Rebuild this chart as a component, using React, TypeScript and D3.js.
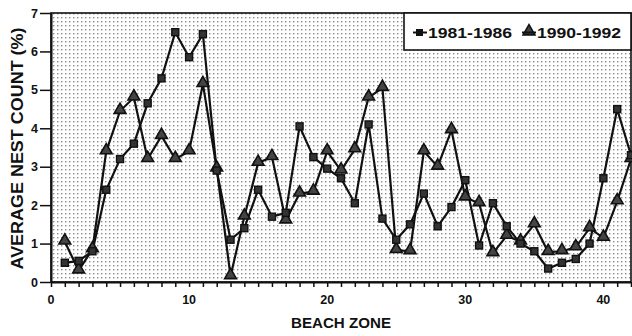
import React, { useEffect, useRef } from "react";
import * as d3 from "d3";

const zones = d3.range(1, 43);
const nests8186 = [
  0.5, 0.55, 0.8, 2.4, 3.2, 3.6, 4.65, 5.3, 6.5, 5.85, 6.45, 2.9, 1.1, 1.4,
  2.4, 1.7, 1.8, 4.05, 3.25, 2.95, 2.7, 2.05, 4.1, 1.65, 1.1, 1.5, 2.3, 1.45,
  1.95, 2.65, 0.95, 2.05, 1.45, 1.0, 0.8, 0.35, 0.5, 0.6, 1.0, 2.7, 4.5, 3.3,
];
const nests9092 = [
  1.05, 0.3, 0.85, 3.4, 4.45, 4.8, 3.2, 3.8, 3.2, 3.4, 5.15, 2.95, 0.15, 1.7,
  3.1, 3.25, 1.6, 2.3, 2.35, 3.4, 2.9, 3.45, 4.8, 5.05, 0.83, 0.8, 3.4, 3.0,
  3.95, 2.2, 2.05, 0.75, 1.2, 1.05, 1.5, 0.78, 0.8, 0.9, 1.4, 1.15, 2.1, 3.2,
];
const xTicks = [0, 10, 20, 30, 40];
const yTicks = [0, 1, 2, 3, 4, 5, 6, 7];
const legendLabels = ["1981-1986", "1990-1992"];

export default function App() {
  const ref = useRef<SVGSVGElement | null>(null);
  const width = 632;
  const height = 336;
  const marginTop = 13;
  const marginRight = 1;
  const marginBottom = 54;
  const marginLeft = 51;

  useEffect(() => {
    const x = d3
      .scaleLinear()
      .domain([0, 42])
      .range([marginLeft, width - marginRight]);
    const y = d3
      .scaleLinear()
      .domain([0, 7])
      .range([height - marginBottom, marginTop]);

    const svg = d3.select(ref.current);
    svg.selectAll("*").remove();
    svg
      .attr("width", width)
      .attr("height", height)
      .attr("viewBox", [0, 0, width, height])
      .attr("style", "position:absolute;left:0;top:0;background:#fff;font-family:Arial, 'Liberation Sans', sans-serif;");

    // dotted background
    const defs = svg.append("defs");
    const pat = defs
      .append("pattern")
      .attr("id", "dots")
      .attr("width", 4)
      .attr("height", 4)
      .attr("patternUnits", "userSpaceOnUse");
    pat.append("rect").attr("width", 4).attr("height", 4).attr("fill", "#fff");
    pat
      .append("rect")
      .attr("x", 1)
      .attr("y", 1)
      .attr("width", 1.4)
      .attr("height", 1.4)
      .attr("fill", "#8a8a8a");

    svg
      .append("rect")
      .attr("x", x(0))
      .attr("y", y(7))
      .attr("width", x(42) - x(0))
      .attr("height", y(0) - y(7))
      .attr("fill", "url(#dots)")
      .attr("stroke", "#111")
      .attr("stroke-width", 1.6);

    // x axis
    const xAxis = svg
      .append("g")
      .attr("transform", `translate(0,${y(0)})`)
      .call(
        d3
          .axisBottom(x)
          .tickValues(d3.range(0, 43))
          .tickSize(5)
          .tickSizeOuter(0)
          .tickFormat(() => "")
      );
    xAxis.select(".domain").attr("stroke", "#111").attr("stroke-width", 2);
    xAxis.selectAll(".tick line").attr("stroke", "#111").attr("stroke-width", 1.5);

    svg
      .append("g")
      .selectAll("text")
      .data(xTicks)
      .join("text")
      .attr("x", (d) => x(d))
      .attr("y", y(0) + 22)
      .attr("text-anchor", "middle")
      .attr("font-size", 12.5)
      .attr("font-weight", "bold")
      .attr("fill", "#111")
      .text((d) => d);

    // y axis
    const yAxis = svg
      .append("g")
      .attr("transform", `translate(${x(0)},0)`)
      .call(
        d3
          .axisLeft(y)
          .tickValues(yTicks)
          .tickSize(11)
          .tickSizeOuter(0)
          .tickFormat(() => "")
      );
    yAxis.select(".domain").attr("stroke", "#111").attr("stroke-width", 2);
    yAxis.selectAll(".tick line").attr("stroke", "#111").attr("stroke-width", 1.5);

    svg
      .append("g")
      .selectAll("text")
      .data(yTicks)
      .join("text")
      .attr("x", x(0) - 13)
      .attr("y", (d) => y(d))
      .attr("dy", "0.36em")
      .attr("text-anchor", "end")
      .attr("font-size", 12.5)
      .attr("font-weight", "bold")
      .attr("fill", "#111")
      .text((d) => d);

    // axis titles
    svg
      .append("text")
      .attr("x", (x(0) + x(42)) / 2)
      .attr("y", 328)
      .attr("text-anchor", "middle")
      .attr("font-size", 14)
      .attr("font-weight", "bold")
      .attr("textLength", 100)
      .attr("lengthAdjust", "spacingAndGlyphs")
      .attr("fill", "#111")
      .text("BEACH ZONE");

    svg
      .append("text")
      .attr("transform", `translate(23,${(y(0) + y(7)) / 2 + 1}) rotate(-90)`)
      .attr("text-anchor", "middle")
      .attr("font-size", 16)
      .attr("font-weight", "bold")
      .attr("textLength", 242)
      .attr("lengthAdjust", "spacingAndGlyphs")
      .attr("fill", "#111")
      .text("AVERAGE NEST COUNT (%)");

    const line = d3
      .line<number>()
      .x((_, i) => x(zones[i]))
      .y((d) => y(d));

    const plot = svg.append("g");

    // lines
    [nests8186, nests9092].forEach((s) => {
      plot
        .append("path")
        .datum(s)
        .attr("fill", "none")
        .attr("stroke", "#111")
        .attr("stroke-width", 2.2)
        .attr("d", line);
    });

    const tri = d3.symbol().type(d3.symbolTriangle).size(60);

    // triangles
    plot
      .append("g")
      .selectAll("path")
      .data(nests9092)
      .join("path")
      .attr("transform", (d, i) => `translate(${x(zones[i])},${y(d) - 1})`)
      .attr("d", tri)
      .attr("fill", "#444")
      .attr("stroke", "#111")
      .attr("stroke-width", 1.6);

    // squares
    plot
      .append("g")
      .selectAll("rect")
      .data(nests8186)
      .join("rect")
      .attr("x", (d, i) => x(zones[i]) - 3.5)
      .attr("y", (d) => y(d) - 3.5)
      .attr("width", 7)
      .attr("height", 7)
      .attr("fill", "#333")
      .attr("stroke", "#111")
      .attr("stroke-width", 1.4);

    // legend
    const lg = svg.append("g");
    lg.append("rect")
      .attr("x", 404)
      .attr("y", y(7))
      .attr("width", x(42) - 404)
      .attr("height", 37)
      .attr("fill", "#fff")
      .attr("stroke", "#111")
      .attr("stroke-width", 1.6);
    lg.append("rect")
      .attr("x", 416)
      .attr("y", 29)
      .attr("width", 7)
      .attr("height", 7)
      .attr("fill", "#111");
    lg.append("line")
      .attr("x1", 413)
      .attr("x2", 427)
      .attr("y1", 32.5)
      .attr("y2", 32.5)
      .attr("stroke", "#111")
      .attr("stroke-width", 2);
    lg.append("path")
      .attr("transform", "translate(529,31.5)")
      .attr("d", tri)
      .attr("fill", "#444")
      .attr("stroke", "#111")
      .attr("stroke-width", 1.6);
    lg.append("line")
      .attr("x1", 522)
      .attr("x2", 536)
      .attr("y1", 32.5)
      .attr("y2", 32.5)
      .attr("stroke", "#111")
      .attr("stroke-width", 2);
    lg.selectAll("text.lab")
      .data(legendLabels)
      .join("text")
      .attr("class", "lab")
      .attr("x", (_, i) => (i === 0 ? 428 : 537))
      .attr("y", 38)
      .attr("font-size", 14.5)
      .attr("font-weight", "bold")
      .attr("textLength", 84)
      .attr("lengthAdjust", "spacingAndGlyphs")
      .attr("fill", "#111")
      .text((d) => d);
  }, []);

  return <svg ref={ref}></svg>;
}
